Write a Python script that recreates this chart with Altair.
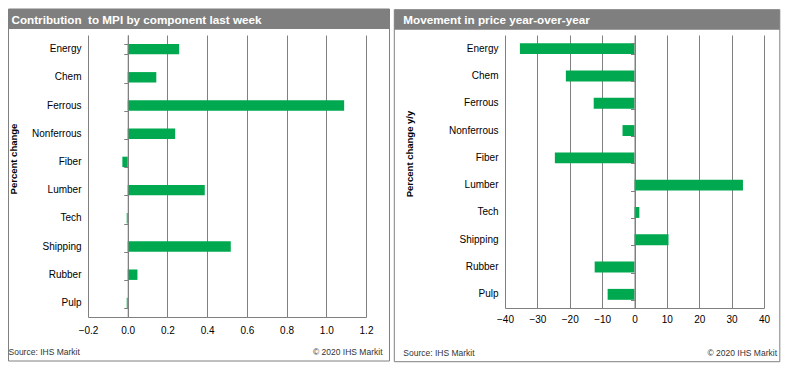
import altair as alt
import pandas as pd

categories = ["Energy", "Chem", "Ferrous", "Nonferrous", "Fiber",
              "Lumber", "Tech", "Shipping", "Rubber", "Pulp"]
contribution = [0.259, 0.144, 1.090, 0.239, -0.027, 0.388, -0.005, 0.519, 0.049, -0.005]
yoy_change = [-35.4, -21.2, -12.6, -3.7, -24.6, 33.5, 1.5, 10.5, -12.3, -8.3]
left_ticks = [-0.2, 0.0, 0.2, 0.4, 0.6, 0.8, 1.0, 1.2]
right_ticks = [-40, -30, -20, -10, 0, 10, 20, 30, 40]

left_title = "Contribution\u00a0 to MPI by component last week"
right_title = "Movement in price year-over-year"
left_ytitle = "Percent change"
right_ytitle = "Percent change y/y"
source_text = "Source: IHS Markit"
copy_text = "\u00a9 2020 IHS Markit"

FONT = "Liberation Sans"
GREEN = "#00A94F"
GRAY = "#808080"


def panel(values, ticks, fmt, W, H, pad_inner, frame, bar_h, title, title_dx,
          ytitle, ytitle_xy, src_xy, copy_xy, label_pad):
    df = pd.DataFrame({"Component": categories, "Value": values})
    one = pd.DataFrame({"k": [0]})
    lo, hi = ticks[0], ticks[-1]
    fx1, fx2, fy1, fy2 = frame

    xenc = alt.X(
        "Value:Q",
        scale=alt.Scale(domain=[lo, hi], nice=False, zero=False),
        axis=alt.Axis(values=ticks, format=fmt, title=None, grid=True,
                      gridColor=GRAY, gridWidth=1, domainColor=GRAY,
                      ticks=False, labelPadding=label_pad, labelFont=FONT,
                      labelFontSize=10, labelColor="#000", labelFlush=False,
                      labelOverlap=False),
    )
    yscale = alt.Scale(domain=categories, paddingInner=pad_inner,
                       paddingOuter=pad_inner / 2)

    bars = alt.Chart(df).mark_bar(color=GREEN).encode(
        x=xenc,
        y=alt.Y("Component:N", sort=categories, scale=yscale,
                axis=alt.Axis(title=None, domain=False, ticks=False,
                              labelPadding=7, labelFont=FONT,
                              labelFontSize=10, labelColor="#000")),
    )
    zero_offset = -W * (0 - lo) / (hi - lo)
    zaxis = alt.Chart(df).mark_bar(opacity=0).encode(
        x=xenc,
        y=alt.Y("Component:N", sort=categories, scale=yscale,
                axis=alt.Axis(orient="left", offset=zero_offset, title=None,
                              labels=False, domain=True, domainColor=GRAY,
                              ticks=True, tickBand="extent", tickSize=4,
                              tickColor=GRAY, grid=False, zindex=1)),
    )

    frame_rect = alt.Chart(one).mark_rect(filled=False, stroke=GRAY, strokeWidth=1).encode(
        x=alt.value(fx1), x2=alt.value(fx2), y=alt.value(fy1), y2=alt.value(fy2))
    bar_rect = alt.Chart(one).mark_rect(color="#7F7F7F").encode(
        x=alt.value(fx1), x2=alt.value(fx2), y=alt.value(fy1), y2=alt.value(fy1 + bar_h))
    title_txt = alt.Chart(one).mark_text(
        text=title, font=FONT, fontSize=11.7, fontWeight="bold", color="white",
        align="left", baseline="middle").encode(
        x=alt.value(fx1 + title_dx), y=alt.value(fy1 + bar_h / 2 + 0.5))
    ytitle_txt = alt.Chart(one).mark_text(
        text=ytitle, font=FONT, fontSize=9.5, fontWeight="bold", color="#000",
        angle=270, align="center", baseline="middle").encode(
        x=alt.value(ytitle_xy[0]), y=alt.value(ytitle_xy[1]))
    src_txt = alt.Chart(one).mark_text(
        text=source_text, font=FONT, fontSize=8.5, color="#333",
        align="left", baseline="middle").encode(
        x=alt.value(src_xy[0]), y=alt.value(src_xy[1]))
    copy_txt = alt.Chart(one).mark_text(
        text=copy_text, font=FONT, fontSize=8.5, color="#333",
        align="right", baseline="middle").encode(
        x=alt.value(copy_xy[0]), y=alt.value(copy_xy[1]))

    return alt.layer(frame_rect, bar_rect, title_txt, ytitle_txt, src_txt,
                     copy_txt, bars, zaxis).resolve_axis(y="independent").properties(
        width=W, height=H)


left = panel(contribution, left_ticks, ".1f", 278, 282, 0.63,
             (-79.5, 301.5, -26, 326), 20, left_title, 3, left_ytitle,
             (-74.5, 124), (-79.5, 317), (294.5, 317), 8)
right = panel(yoy_change, right_ticks, "d", 259, 273, 0.6,
              (-110.7, 274.8, -25.3, 326.7), 20, right_title, 9, right_ytitle,
              (-95, 119), (-101.7, 317.7), (272, 317.7), 6)

chart = alt.hconcat(left, right, spacing=3).properties(
    padding=0, background="white").configure_view(stroke=None)

chart.save("out.html", embed_options={"renderer": "svg", "actions": False})
